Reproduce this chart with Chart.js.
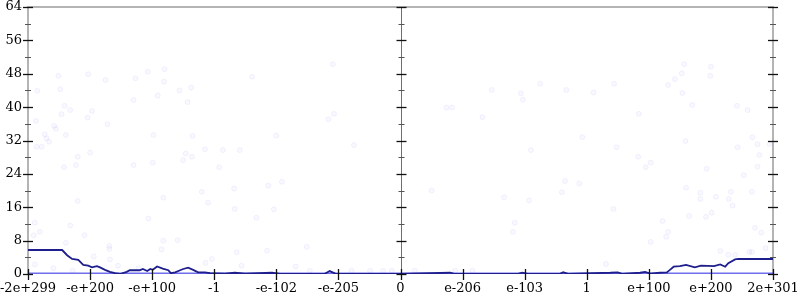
<!DOCTYPE html>
<html>
<head>
<meta charset="utf-8">
<script src="https://cdn.jsdelivr.net/npm/chart.js@4.4.1/dist/chart.umd.min.js"></script>
<style>
  body { margin: 0; background: #fff; }
  #wrap { width: 800px; height: 300px; }
</style>
</head>
<body>
<div id="wrap"><canvas id="chart" width="800" height="300"></canvas></div>
<script>
// tick labels along the (symlog-like) x axis, one per unit
const xTickLabels = ['-2e+299', '-e+200', '-e+100', '-1', '-e-102', '-e-205', '0',
                     'e-206', 'e-103', '1', 'e+100', 'e+200', '2e+301'];
const yTicks = [0, 8, 16, 24, 32, 40, 48, 56, 64];

// dark running line
const lineX = [0, 0.55, 0.63, 0.71, 0.81, 0.89, 0.97, 1.03, 1.11, 1.16, 1.24, 1.32, 1.40, 1.48,
  1.59, 1.64, 1.80, 1.85, 1.92, 1.97, 2.01, 2.08, 2.17, 2.26, 2.30, 2.37, 2.45, 2.50, 2.58,
  2.66, 2.74, 2.85, 2.93, 3.17, 3.33, 3.50, 3.93, 4.06, 4.78, 4.86, 4.95, 6.0,
  6.80, 6.88, 7.88, 7.96, 8.05, 8.57, 8.62, 8.70, 9.38, 9.50, 9.57, 9.86, 9.94, 10.02,
  10.18, 10.29, 10.34, 10.40, 10.50, 10.60, 10.74, 10.84, 11.05, 11.15, 11.23, 11.28, 11.39, 11.44, 12];
const lineY = [5.75, 5.75, 4.5, 3.6, 3.4, 2.2, 2.0, 1.6, 1.9, 1.6, 1.0, 0.5, 0.2, 0,
  0.5, 0.9, 0.9, 1.2, 0.7, 1.2, 1.0, 1.8, 1.3, 0.9, 0.2, 0.4, 0.9, 1.2, 1.5,
  1.0, 0.4, 0.4, 0.2, 0.1, 0.3, 0.1, 0.3, 0.05, 0.05, 0.7, 0.1, 0,
  0.3, 0, 0, 0.3, 0, 0.05, 0.4, 0.05, 0.3, 0.4, 0.05, 0.3, 0.5, 0.1,
  0.3, 0.4, 1.0, 1.75, 1.9, 2.2, 1.6, 2.0, 1.9, 2.3, 1.75, 2.6, 3.5, 3.6, 3.6];

// faint sample dots
const dotX = [0.15, 0.13, 0.14, 0.22, 0.27, 0.30, 0.34, 0.42, 0.45, 0.49, 0.52, 0.54, 0.59, 0.61,
  0.68, 0.96, 0.97, 1.03, 1.25, 1.28, 1.70, 1.73, 1.93, 2.02, 2.09, 2.19, 2.20, 2.44, 2.57,
  2.63, 2.65, 0.80, 1.00, 0.58, 0.77, 1.70, 2.01, 2.54, 2.64, 2.50, 0.80, 2.18, 0.11, 0.19,
  0.09, 0.68, 0.91, 1.94, 0.61, 2.18, 2.41, 2.15, 1.31, 1.31, 1.06, 1.32, 0.11, 1.45, 0.41,
  0.72, 1.78, 3.08, 2.80, 2.90, 3.32, 3.33, 3.87, 4.09, 3.96, 3.68, 4.49, 3.85, 3.36, 2.96,
  2.86, 3.44, 4.31, 4.54, 5.21, 5.51, 5.72, 5.86, 3.41, 3.14, 3.61, 4.00, 2.85,
  4.91, 4.93, 4.84, 5.25, 6.74, 6.83, 7.32, 7.47, 8.10, 6.50, 7.67, 8.07, 8.65, 8.88, 8.60,
  7.84, 7.81, 6.23, 7.16, 6.88, 8.25, 7.94, 7.97, 8.67, 9.11, 8.93,
  9.83, 9.95, 10.03, 10.93, 11.75, 11.78, 11.53, 10.60, 10.83, 10.83, 11.08, 11.32, 11.29,
  11.35, 11.66, 9.43, 10.65, 10.92, 11.01, 10.22, 10.31, 10.28, 10.03, 11.71, 11.81, 11.88,
  11.15, 11.28, 11.39, 11.62, 11.66, 9.31, 9.44, 9.84, 10.31, 10.42, 10.53, 10.57, 10.54,
  10.70, 11.00, 10.99, 11.42, 11.59, 10.59, 11.67, 11.75, 11.94, 11.43, 9.48];
const dotY = [43.9, 36.7, 30.5, 30.5, 33.5, 32.5, 31.7, 35.5, 34.8, 47.5, 44.3, 38.3, 40.3, 33.3,
  39.3, 37.5, 47.9, 39.1, 46.5, 35.9, 41.7, 46.9, 48.5, 33.3, 42.8, 46.1, 49.1, 44.0, 41.2,
  44.7, 33.1, 28.1, 29.1, 25.6, 26.1, 26.1, 26.7, 28.9, 28.1, 27.3, 17.5, 18.3, 12.3, 10.1,
  9.3, 11.6, 9.3, 13.3, 7.5, 8.0, 8.1, 5.9, 6.7, 6.0, 4.2, 3.5, 2.3, 2.0, 1.4,
  0.8, 1.4, 25.6, 19.7, 17.1, 20.5, 15.6, 21.2, 22.1, 15.5, 13.5, 6.5, 5.6, 5.2, 3.6,
  2.7, 2.0, 1.8, 0.8, 0.8, 0.8, 0.8, 0.8, 29.7, 29.7, 47.3, 33.2, 29.9,
  50.3, 38.4, 37.1, 30.9, 39.9, 39.9, 37.6, 44.1, 29.7, 20.0, 18.4, 17.6, 22.3, 21.7, 19.6,
  12.3, 10.1, 0.8, 0.8, 0.8, 45.6, 43.3, 41.8, 44.1, 43.5, 32.8,
  28.1, 25.6, 26.7, 25.2, 25.7, 28.5, 23.7, 20.7, 19.5, 18.0, 18.5, 19.7, 18.0,
  16.4, 19.7, 15.6, 13.9, 13.7, 14.7, 12.7, 10.1, 8.9, 7.7, 11.1, 9.9, 6.2,
  5.5, 4.6, 4.6, 5.3, 5.3, 2.4, 45.6, 38.4, 45.3, 46.7, 48.1, 50.3, 43.4,
  40.5, 49.7, 47.5, 40.3, 39.3, 31.9, 32.8, 31.1, 31.2, 30.4, 30.4];

// samples sitting on zero, drawn as a band
const zeroX = [0, 12];
const zeroY = [0, 0];

const zip = (xs, ys) => xs.map((v, i) => ({ x: v, y: ys[i] }));

// axis frame, centre axis and tick marks
const axesPlugin = {
    id: 'axes',
    beforeDatasetsDraw(chart) {
        const { ctx, chartArea: a } = chart;
        ctx.save();
        ctx.strokeStyle = '#b4b4b4';
        ctx.lineWidth = 2;
        ctx.beginPath();
        ctx.moveTo(a.left, a.bottom);
        ctx.lineTo(a.left, a.top);
        ctx.lineTo(a.right, a.top);
        ctx.lineTo(a.right, a.bottom);
        ctx.stroke();
        const xm = Math.round(chart.scales.x.getPixelForValue(6)) + 0.5;
        ctx.strokeStyle = '#6e6e6e';
        ctx.lineWidth = 1;
        ctx.beginPath();
        ctx.moveTo(xm, a.top);
        ctx.lineTo(xm, a.bottom);
        ctx.stroke();
        ctx.restore();
    },
    afterDatasetsDraw(chart) {
        const { ctx, chartArea: a, scales: { x, y } } = chart;
        ctx.save();
        const xm = Math.round(x.getPixelForValue(6)) + 0.5;
        [a.left, xm, a.right].forEach(px => {
            yTicks.forEach((v, i) => {
                const py = Math.round(y.getPixelForValue(v)) + 0.5;
                ctx.strokeStyle = '#111';
                ctx.lineWidth = 1.3;
                ctx.beginPath();
                ctx.moveTo(px - 5, py);
                ctx.lineTo(px + 5, py);
                ctx.stroke();
                if (i < yTicks.length - 1) {
                    const pm = Math.round(y.getPixelForValue((v + yTicks[i + 1]) / 2)) + 0.5;
                    ctx.strokeStyle = '#555';
                    ctx.lineWidth = 1;
                    ctx.beginPath();
                    ctx.moveTo(px - 3, pm);
                    ctx.lineTo(px + 3, pm);
                    ctx.stroke();
                }
            });
        });
        ctx.strokeStyle = '#111';
        ctx.lineWidth = 1.3;
        xTickLabels.forEach((lbl, i) => {
            const px = Math.round(x.getPixelForValue(i)) + 0.5;
            ctx.beginPath();
            ctx.moveTo(px, a.bottom - 5);
            ctx.lineTo(px, a.bottom + 6);
            ctx.stroke();
        });
        ctx.restore();
    }
};

const font = { family: "'DejaVu Serif', serif", size: 13 };

new Chart(document.getElementById('chart'), {
    type: 'scatter',
    data: {
        datasets: [
            {
                type: 'line',
                data: zip(lineX, lineY),
                borderColor: 'rgb(30, 30, 140)',
                borderWidth: 1.8,
                pointRadius: 0,
                tension: 0,
                fill: false
            },
            {
                type: 'line',
                data: zip(zeroX, zeroY),
                borderColor: 'rgba(50, 50, 230, 0.7)',
                borderWidth: 3,
                pointRadius: 0
            },
            {
                data: zip(dotX, dotY),
                pointRadius: 2.5,
                backgroundColor: 'rgba(40, 40, 230, 0.03)',
                borderColor: 'rgba(40, 40, 230, 0.05)',
                borderWidth: 1
            }
        ]
    },
    options: {
        responsive: false,
        animation: false,
        layout: { padding: 0 },
        plugins: { legend: { display: false }, tooltip: { enabled: false } },
        scales: {
            x: {
                type: 'linear',
                min: 0,
                max: 12,
                afterBuildTicks: scale => {
                    scale.ticks = xTickLabels.map((l, i) => ({ value: i }));
                },
                afterFit: scale => {
                    scale.height = 26;
                    scale.paddingLeft = 0;
                    scale.paddingRight = 27;
                    scale.paddingTop = 0;
                    scale.paddingBottom = 0;
                },
                grid: { display: false, drawTicks: false },
                border: { display: false },
                ticks: {
                    autoSkip: false,
                    maxRotation: 0,
                    padding: 7,
                    color: '#000',
                    font: font,
                    callback: (v, i) => xTickLabels[i]
                }
            },
            y: {
                min: 0,
                max: 64,
                afterBuildTicks: scale => {
                    scale.ticks = yTicks.map(v => ({ value: v }));
                },
                afterFit: scale => {
                    scale.width = 28;
                    scale.paddingTop = 7;
                    scale.paddingBottom = 0;
                    scale.paddingLeft = 0;
                    scale.paddingRight = 0;
                },
                grid: { display: false, drawTicks: false },
                border: { display: false },
                ticks: {
                    padding: 6,
                    color: '#000',
                    font: font
                }
            }
        }
    },
    plugins: [axesPlugin]
});
</script>
</body>
</html>
